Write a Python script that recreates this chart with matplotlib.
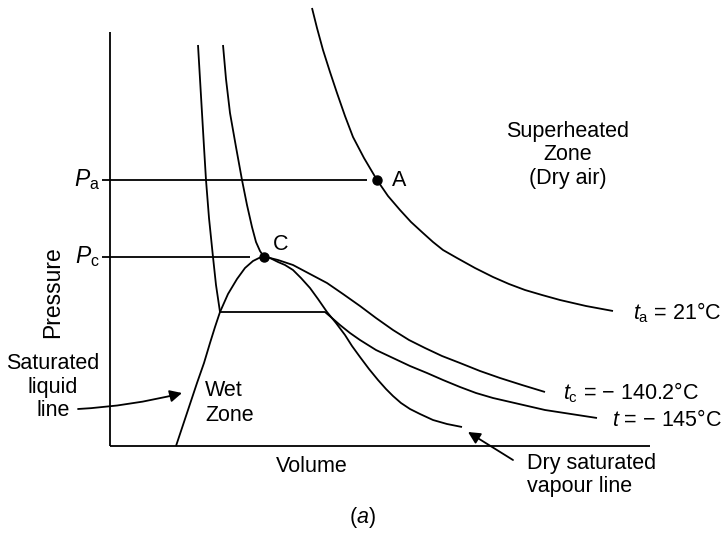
import matplotlib.pyplot as plt

# Schematic P-V diagram of air (arbitrary units)
plt.rcParams['font.family'] = ['Liberation Sans', 'DejaVu Sans']
plt.rcParams['mathtext.fontset'] = 'custom'
plt.rcParams['mathtext.rm'] = 'Liberation Sans'
plt.rcParams['mathtext.it'] = 'Liberation Sans:italic'

# axis extents
axis_v_max = 540
axis_p_max = 414

# pressure levels
p_a = 266
p_c = 189
point_a = (267, 266)
point_c = (154, 189)

# isotherm t_a = 21 C
ta_v = [202, 207, 213, 220, 227, 235, 243, 254, 267, 278, 290, 301, 313, 323,
        333, 347, 365, 383, 399, 415, 432, 450, 476, 503]
ta_p = [438, 418, 396, 374, 353, 330, 309, 288, 266, 250, 236, 224, 213, 204,
        196, 188, 178, 169, 162, 156, 151, 146, 140, 135]

# critical isotherm t_c = -140.2 C
tc_v = [113, 116, 120, 126, 132, 137, 142, 146, 150, 154, 160, 168, 183, 200,
        217, 233, 250, 266, 283, 299, 315, 332, 350, 370, 390, 412, 435]
tc_p = [401, 367, 333, 299, 266, 241, 219, 204, 195, 189, 188, 186, 181, 172,
        163, 152, 140, 128, 116, 106, 98, 90, 83, 75, 68, 61, 54]

# isotherm t = -145 C (with the horizontal wet-zone part)
t_v = [88, 90, 92, 94, 96, 99, 103, 106, 110, 215, 222, 230, 240, 250, 266,
       283, 300, 317, 333, 350, 366, 383, 409, 435, 461, 487]
t_p = [401, 367, 333, 299, 266, 228, 189, 161, 134, 134, 128, 121, 113, 106, 96,
       88, 80, 73, 66, 59, 53, 48, 42, 36, 32, 28]

# saturated liquid line
liq_v = [66, 73, 80, 87, 94, 100, 105, 110, 118, 127, 135, 143, 149, 154]
liq_p = [0, 21, 42, 63, 83, 103, 119, 134, 152, 167, 178, 185, 188, 189]

# dry saturated vapour line
vap_v = [154, 160, 168, 175, 183, 191, 200, 208, 217, 226, 235, 242, 250, 259,
         268, 276, 283, 291, 300, 310, 323, 337, 352]
vap_p = [189, 188, 184, 181, 176, 168, 158, 147, 134, 123, 111, 100, 89, 77,
         66, 57, 50, 43, 37, 32, 26, 22, 19]

fig = plt.figure(figsize=(7.25, 5.34), dpi=100)
ax = fig.add_axes([0, 0, 1, 1])
ax.set_xlim(-110, 615)
ax.set_ylim(-88, 446)
ax.axis('off')

lw = 1.3
kw = dict(color='black', lw=lw, solid_capstyle='butt', solid_joinstyle='round')

# axes
ax.plot([0, 0], [0, axis_p_max], **kw)
ax.plot([0, axis_v_max], [0, 0], **kw)

# pressure levels
ax.plot([-8, point_a[0] - 10], [p_a, p_a], **kw)
ax.plot([-8, point_c[0] - 14], [p_c, p_c], **kw)

# curves
ax.plot(ta_v, ta_p, **kw)
ax.plot(tc_v, tc_p, **kw)
ax.plot(t_v, t_p, **kw)
ax.plot(liq_v, liq_p, **kw)
ax.plot(vap_v, vap_p, **kw)

ax.plot(*point_a, 'o', color='black', ms=6.5)
ax.plot(*point_c, 'o', color='black', ms=6.5)

fs = 15.5
ls = 1.15
ax.text(point_a[0] + 15, point_a[1], 'A', fontsize=fs, va='center', ha='left')
ax.text(point_c[0] + 9, point_c[1] + 13, 'C', fontsize=fs, va='center', ha='left')
ax.text(-10, p_a, r'$P_{\mathrm{a}}$', fontsize=16.5, va='center', ha='right')
ax.text(-10, p_c, r'$P_{\mathrm{c}}$', fontsize=16.5, va='center', ha='right')

ax.text(458, 291, 'Superheated\nZone\n(Dry air)', fontsize=fs, ha='center', va='center',
        linespacing=ls)
ax.text(523, 133, r'$t_{\mathrm{a}}$ = 21°C', fontsize=fs, ha='left', va='center')
ax.text(453, 53, r'$t_{\mathrm{c}}$ = − 140.2°C', fontsize=fs, ha='left', va='center')
ax.text(502, 26, r'$t$ = − 145°C', fontsize=fs, ha='left', va='center')

ax.text(95, 43, 'Wet\nZone', fontsize=fs, ha='left', va='center', linespacing=1.2)
ax.text(-57, 59, 'Saturated\nliquid\nline', fontsize=fs, ha='center', va='center',
        linespacing=ls)
ax.annotate('', xy=(72, 53), xytext=(-32, 37),
            arrowprops=dict(arrowstyle='-|>', color='black', lw=lw,
                            mutation_scale=18, connectionstyle='arc3,rad=0.05',
                            shrinkA=0, shrinkB=0))

ax.text(417, -29, 'Dry saturated\nvapour line', fontsize=fs, ha='left', va='center',
        linespacing=ls)
ax.annotate('', xy=(358, 14), xytext=(403, -14),
            arrowprops=dict(arrowstyle='-|>', color='black', lw=lw,
                            mutation_scale=18, shrinkA=0, shrinkB=0))

ax.text(202, -21, 'Volume', fontsize=fs, ha='center', va='center')
ax.text(-57, 154, 'Pressure', fontsize=16.5, ha='center', va='center', rotation=90)
ax.text(252, -71, r'($\mathit{a}$)', fontsize=fs, ha='center', va='center')

fig.savefig('out.png', dpi=100, facecolor='white')
